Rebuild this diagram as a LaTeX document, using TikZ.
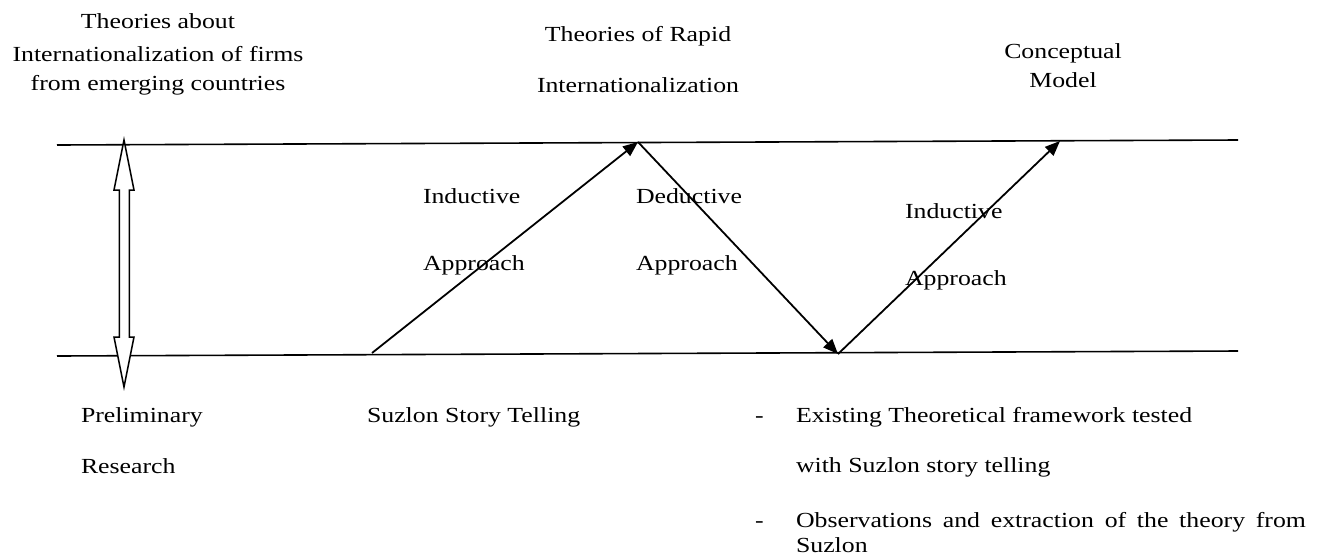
\documentclass[tikz,border=0pt]{standalone}
\usepackage{fontspec}
\setmainfont{Liberation Serif}[FakeStretch=1.2]
\usetikzlibrary{arrows.meta}
\begin{document}
\begin{tikzpicture}[x=1pt,y=-1pt,
  every node/.style={inner sep=0pt,outer sep=0pt,font=\fontsize{21.5}{26}\selectfont},
  lbl/.style={anchor=base west},
  ctr/.style={anchor=base},
  rail/.style={line width=1.6pt},
  flow/.style={line width=1.8pt,-{Triangle[length=15pt,width=12pt]}},
  dbl/.style={line width=1.5pt,fill=white}]
\useasboundingbox (0,0) rectangle (1327,558);
% rails
\coordinate (tl) at (57,145);
\coordinate (tr) at (1238,140);
\coordinate (bl) at (57,356);
\coordinate (br) at (1238,351);
\draw[rail] (tl) -- (tr);
\draw[rail] (bl) -- (br);
% double arrow
\draw[dbl] (124,140) -- (134,190) -- (129.3,190) -- (129.3,337) -- (134,337) -- (124,387)
  -- (114,337) -- (119.3,337) -- (119.3,190) -- (114,190) -- cycle;
% zigzag
\coordinate (p0) at (372,353);
\coordinate (p1) at (638,142);
\coordinate (p2) at (838,354);
\coordinate (p3) at (1060,141);
\draw[flow] (p0) -- (p1);
\draw[flow] (p1) -- (p2);
\draw[flow] (p2) -- (p3);
% top texts
\node[ctr] (t1a) at (158,28) {Theories about};
\node[ctr] (t1b) at (158,61) {Internationalization of firms};
\node[ctr] (t1c) at (158,90) {from emerging countries};
\node[ctr] (t2a) at (638,41) {Theories of Rapid};
\node[ctr] (t2b) at (638,92) {Internationalization};
\node[ctr] (t3a) at (1063,58) {Conceptual};
\node[ctr] (t3b) at (1063,87) {Model};
% approach labels
\node[lbl] (i1a) at (423,203) {Inductive};
\node[lbl] (i1b) at (423,270) {Approach};
\node[lbl] (d1a) at (636,203) {Deductive};
\node[lbl] (d1b) at (636,270) {Approach};
\node[lbl] (i2a) at (905,218) {Inductive};
\node[lbl] (i2b) at (905,285) {Approach};
% bottom texts
\node[lbl] (b1a) at (81,422) {Preliminary};
\node[lbl] (b1b) at (81,473) {Research};
\node[lbl] (b2) at (367,422) {Suzlon Story Telling};
\node[lbl] (d1) at (755,422) {-};
\node[lbl] (e1) at (796,422) {Existing Theoretical framework tested};
\node[lbl] (e2) at (796,472) {with Suzlon story telling};
\node[lbl] (d2) at (755,527) {-};
\node[lbl] (e3) at (796,527) {\makebox[510pt][s]{Observations and extraction of the theory from}};
\node[lbl] (e4) at (796,552) {Suzlon};
\end{tikzpicture}
\end{document}
